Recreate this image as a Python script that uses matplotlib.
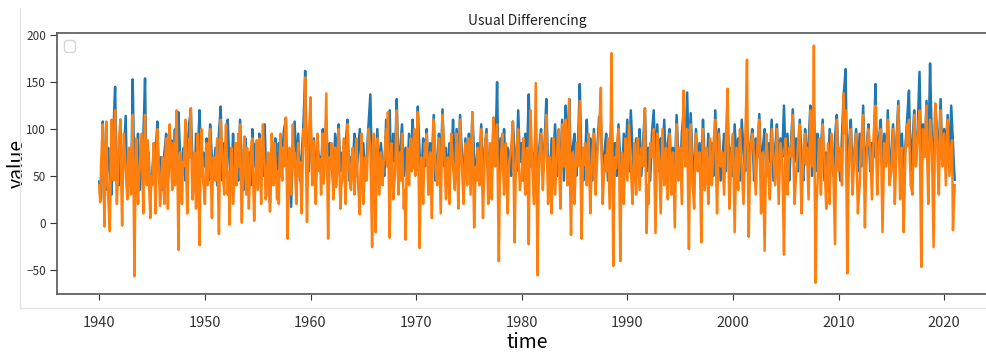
import matplotlib
matplotlib.use("Agg")
import matplotlib.pyplot as plt
import matplotlib.dates as mdates
from matplotlib.lines import Line2D
import pandas as pd

plt.rcParams['font.family'] = ['Noto Sans CJK SC', 'DejaVu Sans']

# monthly values, one row per year (1940 .. 2020, then Jan 2021)
original = [
    44, 30, 25, 60, 108, 75, 52, 40, 35, 58, 80, 62,
    55, 42, 30, 68, 95, 120, 145, 88, 60, 50, 40, 78,
    110, 72, 45, 58, 70, 92, 114, 66, 38, 50, 65, 48,
    40, 88, 153, 95, 70, 55, 48, 72, 95, 60, 35, 48,
    60, 74, 90, 120, 154, 80, 55, 68, 75, 52, 40, 46,
    50, 66, 85, 72, 65, 90, 108, 70, 45, 58, 70, 50,
    35, 52, 75, 84, 95, 66, 48, 55, 60, 76, 88, 70,
    55, 78, 100, 65, 42, 80, 118, 92, 70, 60, 50, 66,
    80, 60, 45, 55, 65, 85, 105, 112, 122, 88, 60, 48,
    40, 65, 95, 82, 70, 98, 120, 80, 50, 62, 75, 66,
    60, 72, 90, 62, 45, 78, 105, 86, 70, 60, 55, 68,
    80, 58, 40, 70, 95, 110, 124, 76, 45, 64, 85, 66,
    50, 85, 110, 82, 65, 50, 40, 68, 95, 72, 55, 62,
    70, 55, 45, 80, 110, 84, 60, 46, 35, 62, 90, 70,
    55, 66, 75, 55, 40, 72, 100, 78, 60, 74, 85, 62,
    45, 70, 95, 80, 70, 58, 50, 82, 105, 68, 40, 52,
    65, 40, 21, 52, 80, 66, 55, 72, 90, 64, 45, 68,
    85, 66, 50, 60, 70, 88, 100, 105, 112, 70, 30, 42,
    55, 35, 17, 50, 80, 95, 108, 82, 60, 78, 95, 70,
    45, 58, 70, 88, 105, 130, 162, 110, 75, 64, 55, 82,
    110, 84, 60, 75, 90, 66, 45, 62, 80, 74, 70, 60,
    55, 78, 100, 86, 75, 92, 110, 80, 50, 66, 85, 72,
    65, 52, 40, 68, 95, 82, 70, 88, 105, 78, 55, 64,
    75, 62, 50, 66, 85, 96, 110, 74, 45, 58, 70, 65,
    60, 78, 95, 70, 50, 62, 75, 88, 100, 76, 55, 70,
    85, 64, 45, 58, 70, 90, 105, 122, 137, 90, 50, 62,
    70, 62, 55, 78, 100, 72, 45, 66, 85, 72, 60, 55,
    50, 82, 110, 92, 75, 98, 120, 80, 40, 68, 95, 78,
    65, 98, 132, 90, 55, 68, 80, 92, 105, 76, 50, 64,
    80, 62, 45, 70, 95, 78, 60, 86, 110, 88, 70, 62,
    55, 90, 124, 96, 75, 58, 45, 68, 90, 74, 60, 82,
    100, 74, 50, 68, 85, 76, 65, 90, 115, 80, 45, 58,
    70, 82, 95, 72, 55, 88, 121, 92, 60, 70, 80, 62,
    45, 64, 85, 74, 65, 86, 110, 78, 50, 74, 100, 80,
    60, 88, 115, 94, 75, 56, 40, 64, 90, 72, 55, 76,
    95, 72, 50, 84, 118, 92, 70, 56, 45, 66, 85, 72,
    60, 84, 105, 70, 40, 60, 80, 90, 100, 76, 55, 66,
    75, 62, 50, 82, 112, 88, 65, 108, 150, 90, 45, 68,
    90, 74, 60, 82, 100, 70, 45, 62, 80, 76, 70, 58,
    50, 80, 108, 90, 75, 62, 55, 88, 120, 92, 65, 74,
    85, 64, 45, 70, 95, 82, 70, 104, 137, 96, 60, 68,
    75, 62, 50, 78, 105, 70, 40, 58, 80, 92, 100, 76,
    55, 70, 85, 110, 132, 92, 60, 50, 45, 68, 90, 80,
    70, 88, 105, 76, 50, 68, 85, 72, 60, 86, 110, 76,
    45, 86, 125, 92, 65, 98, 132, 90, 55, 68, 80, 88,
    95, 72, 50, 66, 85, 118, 148, 100, 65, 54, 45, 58,
    70, 90, 110, 80, 55, 72, 90, 66, 45, 72, 100, 80,
    60, 70, 80, 96, 113, 112, 110, 78, 50, 62, 75, 86,
    95, 70, 45, 58, 70, 92, 113, 86, 60, 72, 85, 66,
    50, 78, 105, 84, 65, 52, 40, 68, 95, 82, 70, 90,
    110, 82, 55, 88, 120, 96, 75, 60, 45, 68, 90, 76,
    65, 82, 100, 74, 50, 68, 85, 104, 122, 88, 55, 68,
    80, 62, 45, 70, 95, 108, 120, 90, 60, 82, 105, 80,
    55, 72, 90, 80, 70, 90, 110, 78, 45, 66, 85, 92,
    100, 80, 60, 70, 80, 64, 50, 82, 115, 92, 70, 60,
    50, 72, 95, 108, 120, 92, 65, 102, 139, 96, 55, 86,
    117, 92, 70, 56, 45, 72, 100, 80, 60, 72, 85, 70,
    55, 82, 110, 88, 65, 54, 45, 70, 95, 82, 70, 78,
    85, 68, 50, 84, 120, 90, 60, 80, 100, 72, 45, 58,
    70, 82, 95, 74, 55, 86, 115, 88, 60, 70, 80, 64,
    50, 78, 105, 84, 65, 78, 90, 68, 45, 76, 110, 92,
    75, 64, 55, 82, 110, 84, 60, 72, 85, 92, 100, 72,
    45, 66, 90, 80, 70, 94, 116, 84, 55, 68, 80, 90,
    100, 74, 50, 68, 85, 76, 65, 88, 110, 78, 45, 62,
    80, 92, 105, 80, 55, 72, 90, 80, 70, 98, 125, 92,
    60, 78, 95, 70, 45, 64, 85, 104, 121, 92, 65, 78,
    90, 72, 55, 82, 110, 90, 70, 56, 45, 72, 100, 84,
    65, 74, 85, 104, 125, 86, 50, 88, 125, 90, 55, 76,
    95, 76, 60, 70, 80, 96, 110, 78, 45, 60, 75, 64,
    55, 78, 100, 84, 70, 58, 50, 72, 90, 104, 115, 90,
    70, 56, 45, 70, 95, 118, 138, 150, 164, 100, 60, 72,
    85, 98, 110, 78, 50, 62, 75, 88, 100, 76, 55, 74,
    95, 78, 60, 92, 125, 84, 45, 62, 80, 94, 105, 78,
    55, 70, 85, 78, 70, 108, 148, 98, 60, 74, 90, 100,
    110, 80, 50, 72, 95, 80, 65, 92, 120, 82, 45, 60,
    75, 90, 105, 80, 55, 72, 90, 110, 130, 95, 60, 78,
    95, 72, 50, 66, 80, 96, 110, 126, 141, 98, 55, 70,
    85, 102, 120, 92, 65, 82, 100, 130, 161, 110, 60, 82,
    105, 90, 75, 102, 130, 92, 55, 112, 170, 128, 90, 76,
    60, 92, 127, 110, 95, 84, 75, 104, 132, 98, 65, 82,
    100, 90, 80, 98, 115, 84, 55, 90, 125, 106, 85, 62,
    46,
]

differenced = [
    40, 22, 60, 85, 105, 35, -4, 70, 108, 55, 30, 10,
    -9, 65, 110, 70, 45, 90, 120, 55, 20, 48, 85, 95,
    110, 40, -3, 62, 95, 75, 60, 38, 25, 70, 80, 45,
    30, 72, 115, 40, -57, 35, 90, 60, 20, 45, 60, 78,
    95, 55, 10, 80, 115, 62, 40, 88, 70, 30, 5, 50,
    40, 62, 85, 45, 10, 60, 100, 75, 50, 18, 30, 55,
    70, 45, 20, 65, 90, 50, 15, 72, 105, 80, 55, 35,
    85, 60, 40, 95, 120, 45, -29, 50, 75, 40, 20, 65,
    60, 85, 110, 48, 10, 55, 90, 70, 122, 58, 25, 50,
    75, 40, 15, 68, 95, 30, -24, 65, 100, 70, 45, 35,
    20, 58, 85, 40, 60, 88, 100, 42, 5, 50, 70, 60,
    45, 75, 90, 35, -12, 60, 110, 85, 70, 45, 30, 80,
    105, 60, 30, 55, -2, 48, 80, 52, 20, 40, 65, 85,
    40, 70, 95, 60, 105, 40, 0, 45, 75, 92, 50, 30,
    80, 50, 15, 45, 70, 85, 90, 40, 2, 38, 60, 88,
    35, 65, 90, 50, 20, 68, 105, 75, 60, 25, 30, 62,
    75, 42, 12, 58, 95, 72, 40, 85, 70, 48, 25, 55,
    20, 70, 95, 58, 45, 80, 60, 95, 112, 50, -17, 45,
    80, 55, 30, 72, 105, 60, 75, 42, 20, 62, 85, 50,
    65, 38, 10, 55, 100, 82, 155, 60, 1, 48, 90, 112,
    134, 75, 40, 88, 70, 45, 20, 60, 95, 72, 55, 68,
    30, 62, 95, 42, 60, 100, 138, 55, -17, 40, 70, 58,
    85, 58, 25, 60, 80, 38, 50, 78, 100, 52, 15, 40,
    45, 72, 90, 48, 20, 70, 105, 82, 65, 40, 35, 62,
    80, 55, 30, 68, 90, 65, 40, 28, 9, 60, 95, 50,
    20, 48, 70, 60, 45, 75, 100, 88, 80, 30, -26, 50,
    95, 40, -10, 55, 90, 62, 30, 52, 75, 58, 40, 65,
    70, 85, 100, 60, 118, 45, -16, 50, 85, 62, 25, 40,
    50, 88, 120, 70, 30, 58, 75, 45, 95, 55, 15, 35,
    -18, 45, 80, 62, 40, 72, 90, 55, 60, 85, 100, 50,
    75, 95, 118, 45, -27, 40, 70, 50, 20, 58, 85, 70,
    95, 62, 30, 58, 75, 40, 5, 68, 110, 85, 60, 48,
    40, 68, 90, 50, 10, 62, 115, 95, 75, 45, 25, 55,
    70, 42, 20, 65, 95, 78, 60, 48, 35, 70, 95, 55,
    15, 58, 110, 80, 65, 40, 20, 55, 85, 62, 40, 72,
    90, 60, 30, 75, 118, 50, -5, 35, 60, 45, 80, 62,
    40, 72, 100, 48, 5, 42, 75, 88, 95, 55, 20, 60,
    85, 50, 25, 70, 112, 80, 60, 88, 105, 30, -41, 40,
    60, 78, 95, 55, 30, 62, 85, 45, 10, 50, 65, 72,
    80, 95, 108, 40, -21, 45, 70, 88, 100, 60, 35, 48,
    45, 70, 90, 55, 30, 62, 80, 40, -23, 75, 120, 88,
    60, 40, 20, 85, 149, 45, -56, 30, 70, 82, 95, 60,
    35, 58, 80, 95, 115, 62, 20, 48, 70, 40, 10, 55,
    90, 58, 30, 52, 75, 88, 100, 45, 15, 62, 105, 80,
    60, 85, 110, 72, 40, 88, 132, 40, -13, 45, 75, 50,
    20, 52, 85, 70, 60, 95, 130, 48, -17, 40, 80, 62,
    85, 62, 40, 70, 95, 48, 10, 45, 70, 82, 95, 58,
    30, 55, 75, 88, 100, 120, 144, 65, 20, 42, 60, 72,
    55, 72, 90, 50, 15, 85, 181, 60, -46, 30, 70, 58,
    80, 92, 100, 45, -41, 30, 75, 48, 20, 58, 90, 68,
    45, 78, 105, 82, 60, 38, 20, 55, 85, 60, 30, 62,
    90, 60, 35, 58, 80, 70, 60, 95, 122, 50, -11, 40,
    20, 55, 85, 78, 70, 88, 100, 45, -11, 40, 95, 82,
    70, 40, 10, 58, 100, 70, 40, 62, 80, 50, 25, 60,
    95, 62, 30, 55, 75, 35, -5, 50, 105, 78, 45, 65,
    80, 48, 20, 82, 141, 95, 60, 85, 100, 40, -28, 50,
    105, 72, 40, 30, 15, 60, 95, 70, 55, 62, 75, 35,
    -21, 40, 100, 68, 35, 58, 80, 48, 20, 55, 90, 62,
    40, 62, 85, 98, 110, 50, 10, 52, 95, 78, 60, 70,
    75, 52, 30, 60, 90, 115, 143, 62, 15, 40, 70, 85,
    95, 40, -10, 35, 80, 58, 35, 70, 100, 78, 60, 40,
    20, 55, 90, 125, 174, 60, -15, 40, 80, 88, 95, 82,
    70, 48, 30, 58, 85, 98, 110, 55, 10, 45, 75, 25,
    -30, 35, 95, 78, 60, 40, 25, 62, 100, 85, 70, 55,
    40, 72, 100, 58, 20, 52, 85, 78, 65, 20, -34, 45,
    90, 62, 30, 55, 80, 75, 70, 95, 115, 60, 20, 40,
    55, 70, 85, 98, 105, 45, 10, 42, 75, 88, 95, 62,
    80, 50, 25, 72, 120, 85, 60, 70, 189, 40, -64, 20,
    40, 68, 90, 55, 30, 70, 105, 82, 70, 40, 15, 50,
    85, 50, 20, 62, 95, 75, 60, 20, -23, 55, 110, 80,
    55, 68, 80, 58, 40, 90, 138, 95, 120, 40, -54, 30,
    75, 88, 100, 60, 30, 52, 70, 82, 95, 50, 10, 28,
    40, 66, 90, 102, 115, 50, -5, 42, 75, 88, 100, 88,
    80, 50, 25, 62, 95, 110, 125, 70, 30, 58, 85, 92,
    100, 45, -10, 40, 85, 72, 60, 88, 110, 70, 40, 48,
    55, 78, 100, 62, 20, 52, 85, 102, 125, 70, 25, 52,
    80, 40, -10, 35, 75, 92, 105, 82, 110, 72, 40, 35,
    30, 72, 115, 85, 60, 78, 95, 108, 120, 40, -47, 50,
    100, 85, 70, 98, 125, 60, 20, 68, 110, 95, 85, 30,
    -26, 52, 127, 108, 90, 55, 30, 78, 120, 88, 60, 78,
    95, 68, 40, 75, 110, 82, 50, 65, 80, 88, -8, 20,
    40,
]

time = pd.date_range('1940-01-01', periods=len(original), freq='MS')

fig = plt.figure(figsize=(9.87, 3.54), dpi=100)
ax = fig.add_axes([0.0578, 0.1695, 0.9523, 0.736])

ax.plot(time, original, color='#1f77b4', lw=1.8)
ax.plot(time, differenced, color='#ff7f0e', lw=1.8)

ax.set_xlim(pd.Timestamp('1936-01-01'), pd.Timestamp('2025-01-01'))
ax.set_ylim(-76, 202)
ax.xaxis.set_major_locator(mdates.YearLocator(10))
ax.xaxis.set_major_formatter(mdates.DateFormatter('%Y'))
ax.set_yticks([-50, 0, 50, 100, 150, 200])

ax.tick_params(axis='x', labelsize=10.5, pad=12, colors='#333333', length=4)
ax.tick_params(axis='y', labelsize=8.5, pad=3, colors='#333333', length=5)
for s in ax.spines.values():
    s.set_color('#555555')
    s.set_linewidth(1.2)
ax.spines['right'].set_visible(False)

ax.set_title('Usual Differencing', fontsize=10, color='#222222')
ax.set_xlabel('time', fontsize=14, labelpad=1)
ax.set_ylabel('value', fontsize=14, labelpad=-1)
ax.legend(loc='upper left')

# light frame of the screenshot around the plot
fig.add_artist(Line2D([20/987, 20/987], [1-8/354, 1-308/354],
                      transform=fig.transFigure, color='#e4e4e4', lw=1))
fig.add_artist(Line2D([20/987, 1.0], [1-308/354, 1-308/354],
                      transform=fig.transFigure, color='#e4e4e4', lw=1))

fig.savefig('out.png', dpi=100)
